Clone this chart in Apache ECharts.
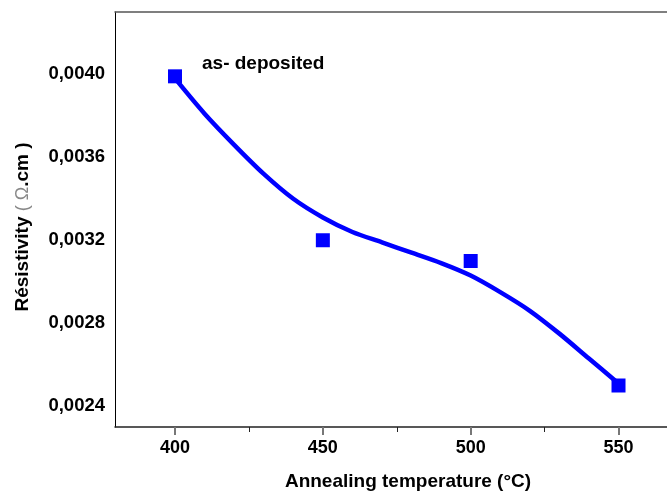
<!DOCTYPE html>
<html>
<head>
<meta charset="utf-8">
<script src="https://cdn.jsdelivr.net/npm/echarts@6/dist/echarts.min.js"></script>
<style>
  html, body { margin: 0; padding: 0; background: #fff; }
  #main { width: 667px; height: 494px; }
</style>
</head>
<body>
<div id="main"></div>
<script>
// measured points
var temps = [400, 450, 500, 550];
var resist = [0.00399, 0.00320, 0.00310, 0.00250];

// fitted curve
var fitX = [400, 410, 420, 430, 440, 450, 460, 470, 480, 490, 500, 510, 520, 530, 540, 550];
var fitY = [0.00398, 0.00381, 0.00366, 0.00352, 0.00340, 0.00331, 0.00324, 0.00319,
            0.00314, 0.00309, 0.00303, 0.00295, 0.00286, 0.00275, 0.00263, 0.00251];

var xTicks = [400, 450, 500, 550];
var xMinorTicks = [425, 475, 525];
var yTicks = [0.0024, 0.0028, 0.0032, 0.0036, 0.0040];

var font = '"Liberation Sans", Arial, sans-serif';

var option = {
    animation: false,
    backgroundColor: '#fff',
    grid: { left: 115, top: 12, right: 0, bottom: 67 },
    xAxis: [{
        type: 'value',
        min: 379.7,
        max: 566.4,
        axisLine: { show: true, lineStyle: { color: '#222', width: 1.5 } },
        axisTick: { show: true, customValues: xTicks, length: 8, lineStyle: { color: '#777', width: 2 } },
        axisLabel: {
            customValues: xTicks,
            margin: 12,
            fontFamily: font, fontWeight: 'bold', fontSize: 18, color: '#000'
        },
        splitLine: { show: false }
    }, {
        type: 'value',
        position: 'bottom',
        offset: 0,
        min: 379.7,
        max: 566.4,
        axisLine: { show: false },
        axisTick: { show: true, customValues: xMinorTicks, length: 5, lineStyle: { color: '#222', width: 1 } },
        axisLabel: { show: false },
        splitLine: { show: false }
    }, {
        type: 'value',
        position: 'top',
        min: 379.7,
        max: 566.4,
        axisLine: { show: true, lineStyle: { color: '#555', width: 1.5 } },
        axisTick: { show: false },
        axisLabel: { show: false },
        splitLine: { show: false }
    }],
    yAxis: {
        type: 'value',
        min: 0.0023,
        max: 0.0043,
        axisLine: { show: true, lineStyle: { color: '#000', width: 1 } },
        axisTick: { show: false },
        axisLabel: {
            customValues: yTicks,
            margin: 10,
            fontFamily: font, fontWeight: 'bold', fontSize: 18.5, color: '#000',
            formatter: function (v) { return v.toFixed(4).replace('.', ','); }
        },
        splitLine: { show: false }
    },
    graphic: [{
        type: 'text',
        left: 202, top: 54,
        style: { text: 'as- deposited', font: 'bold 19px ' + font, fill: '#000' }
    }, {
        type: 'text',
        x: 408, y: 482,
        style: {
            text: 'Annealing temperature (°C)', font: 'bold 19px ' + font, fill: '#000',
            align: 'center', verticalAlign: 'middle'
        }
    }, {
        type: 'text',
        x: 23, y: 227,
        rotation: Math.PI / 2,
        style: {
            text: '{b|Résistivity }{t|( Ω}{b|.cm )}',
            align: 'center', verticalAlign: 'middle',
            rich: {
                b: { font: 'bold 19px ' + font, fill: '#000' },
                t: { font: '18px ' + font, fill: '#888' }
            }
        }
    }],
    series: [{
        type: 'line',
        data: fitX.map(function (x, i) { return [x, fitY[i]]; }),
        smooth: 0.3,
        showSymbol: false,
        lineStyle: { color: '#0000ff', width: 4.5 },
        z: 2
    }, {
        type: 'scatter',
        data: temps.map(function (t, i) { return [t, resist[i]]; }),
        symbol: 'rect',
        symbolSize: 14,
        itemStyle: { color: '#0000ff', opacity: 1 },
        z: 3
    }]
};

echarts.init(document.getElementById('main')).setOption(option);
</script>
</body>
</html>
